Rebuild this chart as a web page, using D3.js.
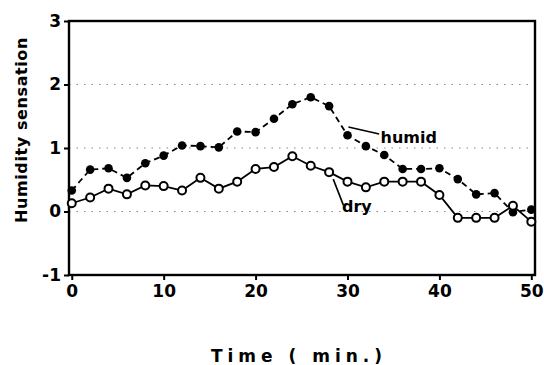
<!DOCTYPE html>
<html>
<head>
<meta charset="utf-8">
<script src="https://cdn.jsdelivr.net/npm/d3@7"></script>
<style>
  body { margin: 0; background: #fff; }
  svg { display: block; }
  .tick text { font-family: "DejaVu Sans", sans-serif; font-weight: bold; font-size: 17px; fill: #000; }
</style>
</head>
<body>
<div id="chart"></div>
<script>
// time points (min.)
var times = [0, 2, 4, 6, 8, 10, 12, 14, 16, 18, 20, 22, 24, 26, 28, 30, 32, 34, 36, 38, 40, 42, 44, 46, 48, 50];

// humidity sensation, humid condition (filled circles, dashed)
var humid = [0.33, 0.66, 0.68, 0.53, 0.76, 0.88, 1.04, 1.03, 1.01, 1.26, 1.25, 1.46, 1.69, 1.80, 1.66, 1.20,
             1.03, 0.89, 0.67, 0.67, 0.68, 0.51, 0.27, 0.29, -0.01, 0.03];

// humidity sensation, dry condition (open circles, solid)
var dry = [0.13, 0.22, 0.36, 0.27, 0.41, 0.40, 0.33, 0.53, 0.36, 0.47, 0.67, 0.70, 0.87, 0.72, 0.62, 0.47,
           0.38, 0.47, 0.47, 0.47, 0.26, -0.10, -0.10, -0.10, 0.09, -0.16];

var xTicks = [0, 10, 20, 30, 40, 50];
var yTicks = [-1, 0, 1, 2, 3];
var gridValues = [0, 1, 2];

var width = 544, height = 365;

// get the canvas area
var svg = d3.select("#chart").append("svg").attr("width", width).attr("height", height);

var x = d3.scaleLinear().domain([-0.3, 50.4]).range([69, 535]);
var y = d3.scaleLinear().domain([-1, 3]).range([275, 21]);

// dotted grid lines
svg.selectAll("line.grid").data(gridValues).enter().append("line")
  .attr("class", "grid")
  .attr("x1", x.range()[0]).attr("x2", x.range()[1])
  .attr("y1", function(d) { return y(d); }).attr("y2", function(d) { return y(d); })
  .attr("stroke", "#888").attr("stroke-width", 1.2).attr("stroke-dasharray", "1.5,6");

// frame
svg.append("rect")
  .attr("x", x.range()[0]).attr("y", y.range()[1])
  .attr("width", x.range()[1] - x.range()[0]).attr("height", y.range()[0] - y.range()[1])
  .attr("fill", "none").attr("stroke", "#000").attr("stroke-width", 2.4);

// axes
var xAxis = svg.append("g").attr("transform", "translate(0," + y.range()[0] + ")")
  .call(d3.axisBottom(x).tickValues(xTicks).tickSize(5).tickPadding(5));
var yAxis = svg.append("g").attr("transform", "translate(" + x.range()[0] + ",0)")
  .call(d3.axisLeft(y).tickValues(yTicks).tickFormat(d3.format("d")).tickSize(5).tickPadding(3));
[xAxis, yAxis].forEach(function(a) {
  a.select(".domain").remove();
  a.selectAll(".tick line").attr("stroke", "#000").attr("stroke-width", 2);
});
yAxis.selectAll(".tick text").text(function(d) { return d < 0 ? "-" + Math.abs(d) : d; });

// lines
var line = d3.line()
  .x(function(d, i) { return x(times[i]); })
  .y(function(d) { return y(d); });

svg.append("path").datum(humid).attr("d", line)
  .attr("fill", "none").attr("stroke", "#000").attr("stroke-width", 1.8).attr("stroke-dasharray", "6,4");
svg.append("path").datum(dry).attr("d", line)
  .attr("fill", "none").attr("stroke", "#000").attr("stroke-width", 1.8);

// markers
svg.selectAll("circle.humid").data(humid).enter().append("circle")
  .attr("class", "humid")
  .attr("cx", function(d, i) { return x(times[i]); }).attr("cy", function(d) { return y(d); })
  .attr("r", 4.3).attr("fill", "#000");
svg.selectAll("circle.dry").data(dry).enter().append("circle")
  .attr("class", "dry")
  .attr("cx", function(d, i) { return x(times[i]); }).attr("cy", function(d) { return y(d); })
  .attr("r", 4).attr("fill", "#fff").attr("stroke", "#000").attr("stroke-width", 2);

// series labels with leader lines
var labelFont = '"DejaVu Sans", sans-serif';
svg.append("line").attr("x1", x(30.1)).attr("y1", y(1.33)).attr("x2", x(33.45)).attr("y2", y(1.22))
  .attr("stroke", "#000").attr("stroke-width", 1.6);
svg.append("text").attr("x", x(33.6)).attr("y", y(1.08)).text("humid")
  .attr("font-family", labelFont).attr("font-weight", "bold").attr("font-size", 16);
svg.append("line").attr("x1", x(28.45)).attr("y1", y(0.51)).attr("x2", x(29.55)).attr("y2", y(0.1))
  .attr("stroke", "#000").attr("stroke-width", 1.6);
svg.append("text").attr("x", x(29.4)).attr("y", y(-0.01)).text("dry")
  .attr("font-family", labelFont).attr("font-weight", "bold").attr("font-size", 16);

// axis titles
svg.append("text").attr("x", 299).attr("y", 362).attr("text-anchor", "middle")
  .attr("font-family", labelFont).attr("font-weight", "bold").attr("font-size", 17)
  .attr("letter-spacing", 5).text("Time ( min.)");
svg.append("text").attr("transform", "translate(27,130) rotate(-90)").attr("text-anchor", "middle")
  .attr("font-family", labelFont).attr("font-weight", "bold").attr("font-size", 16)
  .attr("letter-spacing", 0.6).text("Humidity sensation");
</script>
</body>
</html>
